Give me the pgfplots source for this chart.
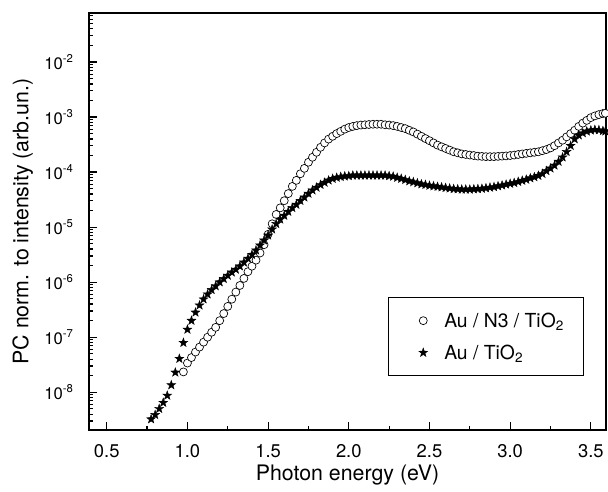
\documentclass[border=0pt]{standalone}
\usepackage{fontspec}
\setmainfont{TeX Gyre Heros}
\usepackage{pgfplots}
\pgfplotsset{compat=1.18}
\pgfdeclareplotmark{fstar}{%
  \pgfpathmoveto{\pgfpointpolar{90}{\pgfplotmarksize}}%
  \pgfpathlineto{\pgfpointpolar{126}{0.4\pgfplotmarksize}}%
  \pgfpathlineto{\pgfpointpolar{162}{\pgfplotmarksize}}%
  \pgfpathlineto{\pgfpointpolar{198}{0.4\pgfplotmarksize}}%
  \pgfpathlineto{\pgfpointpolar{234}{\pgfplotmarksize}}%
  \pgfpathlineto{\pgfpointpolar{270}{0.4\pgfplotmarksize}}%
  \pgfpathlineto{\pgfpointpolar{306}{\pgfplotmarksize}}%
  \pgfpathlineto{\pgfpointpolar{342}{0.4\pgfplotmarksize}}%
  \pgfpathlineto{\pgfpointpolar{18}{\pgfplotmarksize}}%
  \pgfpathlineto{\pgfpointpolar{54}{0.4\pgfplotmarksize}}%
  \pgfpathclose
  \pgfusepathqfillstroke
}
\newcommand\ysup[1]{\raisebox{0.45em}{\fontsize{8.5}{9}\selectfont #1}}
\begin{document}
\begin{tikzpicture}
\useasboundingbox (-66.75pt,-46.5pt) rectangle (389.25pt,322.5pt);
\begin{axis}[
  at={(0pt,0pt)}, anchor=south west,
  scale only axis, width=387.75pt, height=312.75pt,
  ymode=log,
  xmin=0.39, xmax=3.594, ymin=2.06e-9, ymax=0.0778,
  axis line style={line width=1.2pt},
  tick align=inside, xtick pos=bottom, ytick pos=left,
  major tick length=6pt, minor tick length=3pt,
  every tick/.style={black, line width=0.9pt},
  xtick={0.5,1.0,1.5,2.0,2.5,3.0,3.5},
  xticklabels={0.5,1.0,1.5,2.0,2.5,3.0,3.5},
  minor xtick={0.75,1.25,1.75,2.25,2.75,3.25},
  ytick={1e-8,1e-7,1e-6,1e-5,1e-4,1e-3,1e-2},
  yticklabels={10\ysup{-8},10\ysup{-7},10\ysup{-6},10\ysup{-5},10\ysup{-4},10\ysup{-3},10\ysup{-2}},
  minor ytick={3e-9,4e-9,5e-9,6e-9,7e-9,8e-9,9e-9,
    2e-8,3e-8,4e-8,5e-8,6e-8,7e-8,8e-8,9e-8,
    2e-7,3e-7,4e-7,5e-7,6e-7,7e-7,8e-7,9e-7,
    2e-6,3e-6,4e-6,5e-6,6e-6,7e-6,8e-6,9e-6,
    2e-5,3e-5,4e-5,5e-5,6e-5,7e-5,8e-5,9e-5,
    2e-4,3e-4,4e-4,5e-4,6e-4,7e-4,8e-4,9e-4,
    2e-3,3e-3,4e-3,5e-3,6e-3,7e-3,8e-3,9e-3,
    2e-2,3e-2,4e-2,5e-2,6e-2,7e-2},
  xticklabel style={font=\fontsize{13.8}{16}\selectfont, yshift=-7.5pt},
  yticklabel style={font=\fontsize{12.5}{15}\selectfont, xshift=-8.5pt},
  xlabel={Photon energy (eV)},
  ylabel={PC norm. to intensity (arb.un.)},
  xlabel style={font=\fontsize{16}{19}\selectfont, at={(axis description cs:0.5,-0.107)}, anchor=center},
  ylabel style={font=\fontsize{16}{19}\selectfont, at={(axis description cs:-0.128,0.5)}, anchor=center},
  legend style={at={(0.957,0.1295)}, anchor=south east, draw=black, line width=0.6pt,
    font=\fontsize{14.5}{17}\selectfont, inner xsep=12.5pt, inner ysep=10pt, row sep=9.6pt,
    nodes={text height=12.4pt, text depth=2pt, inner ysep=0pt},
    /tikz/every odd column/.append style={column sep=10.45pt}},
  legend cell align=left,
  legend image code/.code={\path (0pt,0pt); \draw[#1] plot coordinates {(13pt,0pt)};},
]
\addplot[only marks, mark=*, mark size=3.0pt, mark options={fill=white, draw=black, line width=0.5pt}] coordinates {
(0.975,2.34e-8) (1.000,3.39e-8) (1.025,4.27e-8) (1.050,5.37e-8) (1.075,6.61e-8)
(1.100,8.13e-8) (1.125,1.00e-7) (1.150,1.23e-7) (1.175,1.51e-7) (1.200,2.00e-7)
(1.225,2.69e-7) (1.250,3.63e-7) (1.275,4.90e-7) (1.300,6.61e-7) (1.325,8.71e-7)
(1.350,1.17e-6) (1.375,1.55e-6) (1.400,1.95e-6) (1.425,2.51e-6) (1.450,3.39e-6)
(1.475,4.79e-6) (1.500,7.41e-6) (1.525,1.15e-5) (1.550,1.70e-5) (1.575,2.24e-5)
(1.600,3.02e-5) (1.625,4.07e-5) (1.650,5.50e-5) (1.675,7.08e-5) (1.700,9.33e-5)
(1.725,1.17e-4) (1.750,1.51e-4) (1.775,1.86e-4) (1.800,2.29e-4) (1.825,2.82e-4)
(1.850,3.39e-4) (1.875,3.98e-4) (1.900,4.47e-4) (1.925,5.01e-4) (1.950,5.50e-4)
(1.975,6.03e-4) (2.000,6.46e-4) (2.025,6.76e-4) (2.050,7.00e-4) (2.075,7.16e-4)
(2.100,7.24e-4) (2.125,7.33e-4) (2.150,7.41e-4) (2.175,7.41e-4) (2.200,7.41e-4)
(2.225,7.24e-4) (2.250,7.16e-4) (2.275,7.00e-4) (2.300,6.76e-4) (2.325,6.46e-4)
(2.350,6.17e-4) (2.375,5.75e-4) (2.400,5.37e-4) (2.425,4.90e-4) (2.450,4.47e-4)
(2.475,4.07e-4) (2.500,3.72e-4) (2.525,3.39e-4) (2.550,3.09e-4) (2.575,2.88e-4)
(2.600,2.69e-4) (2.625,2.51e-4) (2.650,2.34e-4) (2.675,2.24e-4) (2.700,2.14e-4)
(2.725,2.09e-4) (2.750,2.04e-4) (2.775,2.00e-4) (2.800,1.95e-4) (2.825,1.93e-4)
(2.850,1.91e-4) (2.875,1.91e-4) (2.900,1.91e-4) (2.925,1.93e-4) (2.950,1.95e-4)
(2.975,1.97e-4) (3.000,2.00e-4) (3.025,2.04e-4) (3.050,2.09e-4) (3.075,2.14e-4)
(3.100,2.19e-4) (3.125,2.24e-4) (3.150,2.29e-4) (3.175,2.34e-4) (3.200,2.45e-4)
(3.225,2.57e-4) (3.250,2.75e-4) (3.275,3.02e-4) (3.300,3.39e-4) (3.325,3.80e-4)
(3.350,4.37e-4) (3.375,5.01e-4) (3.400,5.75e-4) (3.425,6.76e-4) (3.450,7.76e-4)
(3.475,8.71e-4) (3.500,9.77e-4) (3.525,1.05e-3) (3.550,1.11e-3) (3.575,1.16e-3)
(3.590,1.17e-3)
};
\addlegendentry{Au / N3 / TiO\textsubscript{2}}
\addplot[only marks, mark=fstar, mark size=3.5pt, mark options={fill=black, draw=black, line width=0.3pt}] coordinates {
(0.775,3.24e-9) (0.800,3.89e-9) (0.825,5.01e-9) (0.850,6.46e-9) (0.875,8.71e-9)
(0.900,1.35e-8) (0.925,2.29e-8) (0.950,4.07e-8) (0.975,7.94e-8) (1.000,1.38e-7)
(1.025,2.00e-7) (1.050,2.82e-7) (1.075,3.80e-7) (1.100,4.90e-7) (1.125,6.03e-7)
(1.150,7.24e-7) (1.175,8.51e-7) (1.200,1.00e-6) (1.225,1.15e-6) (1.250,1.32e-6)
(1.275,1.51e-6) (1.300,1.70e-6) (1.325,1.95e-6) (1.350,2.29e-6) (1.375,2.69e-6)
(1.400,3.16e-6) (1.425,3.80e-6) (1.450,4.68e-6) (1.475,5.75e-6) (1.500,7.08e-6)
(1.525,9.12e-6) (1.550,1.15e-5) (1.575,1.38e-5) (1.600,1.62e-5) (1.625,1.91e-5)
(1.650,2.24e-5) (1.675,2.57e-5) (1.700,3.02e-5) (1.725,3.47e-5) (1.750,4.07e-5)
(1.775,4.68e-5) (1.800,5.25e-5) (1.825,5.89e-5) (1.850,6.46e-5) (1.875,7.08e-5)
(1.900,7.59e-5) (1.925,7.94e-5) (1.950,8.22e-5) (1.975,8.41e-5) (2.000,8.51e-5)
(2.025,8.71e-5) (2.050,8.71e-5) (2.075,8.71e-5) (2.100,8.71e-5) (2.125,8.71e-5)
(2.150,8.71e-5) (2.175,8.71e-5) (2.200,8.71e-5) (2.225,8.71e-5) (2.250,8.51e-5)
(2.275,8.32e-5) (2.300,7.94e-5) (2.325,7.59e-5) (2.350,7.24e-5) (2.375,6.84e-5)
(2.400,6.61e-5) (2.425,6.31e-5) (2.450,6.03e-5) (2.475,5.89e-5) (2.500,5.69e-5)
(2.525,5.56e-5) (2.550,5.43e-5) (2.575,5.31e-5) (2.600,5.19e-5) (2.625,5.07e-5)
(2.650,4.95e-5) (2.675,4.90e-5) (2.700,4.84e-5) (2.725,4.84e-5) (2.750,4.84e-5)
(2.775,4.90e-5) (2.800,4.95e-5) (2.825,5.01e-5) (2.850,5.13e-5) (2.875,5.25e-5)
(2.900,5.37e-5) (2.925,5.56e-5) (2.950,5.75e-5) (2.975,5.96e-5) (3.000,6.17e-5)
(3.025,6.38e-5) (3.050,6.68e-5) (3.075,7.00e-5) (3.100,7.33e-5) (3.125,7.76e-5)
(3.150,8.13e-5) (3.175,8.61e-5) (3.200,9.33e-5) (3.225,1.05e-4) (3.250,1.17e-4)
(3.275,1.32e-4) (3.300,1.55e-4) (3.325,1.86e-4) (3.350,2.34e-4) (3.375,3.02e-4)
(3.400,3.98e-4) (3.425,4.68e-4) (3.450,5.13e-4) (3.475,5.50e-4) (3.500,5.75e-4)
(3.525,5.89e-4) (3.550,5.82e-4) (3.575,5.62e-4) (3.590,5.50e-4)
};
\addlegendentry{Au / TiO\textsubscript{2}}
\end{axis}
\end{tikzpicture}
\end{document}
